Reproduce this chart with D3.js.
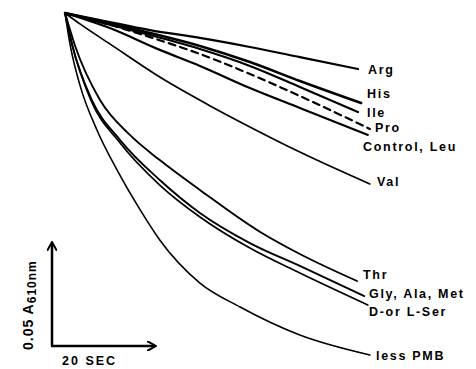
<!DOCTYPE html>
<html>
<head>
<meta charset="utf-8">
<script src="https://cdn.jsdelivr.net/npm/d3@7"></script>
<style>
  body { margin: 0; background: #fff; }
</style>
</head>
<body>
<div id="chart"></div>
<script>
// Time in seconds after start, absorbance decrease in mA (610 nm)
var argT = [0, 6.8, 16.5, 26.2, 35.9, 45.6, 56.9];
var argA = [0, 3.4, 8.3, 12.1, 16.5, 21.4, 27.2];

var hisT = [0, 6.8, 16.5, 26.2, 35.9, 45.6, 57.5];
var hisA = [0, 3.9, 9.7, 16.0, 23.8, 33.0, 43.7];

var ileT = [0, 6.8, 16.5, 26.2, 35.9, 45.6, 56.9];
var ileA = [0, 4.4, 10.7, 17.5, 25.7, 35.9, 48.1];

var proT = [0, 6.8, 16.5, 26.2, 35.9, 45.6, 59.2];
var proA = [0, 4.4, 11.7, 19.9, 29.6, 40.3, 56.3];

var controlT = [0, 8.7, 18.4, 26.2, 35.9, 45.6, 58.8];
var controlA = [0, 7.3, 17.9, 25.7, 36.4, 46.1, 59.2];

var valT = [0, 2.9, 8.7, 18.4, 28.2, 35.9, 45.6, 59.2];
var valA = [0, 5.3, 15.0, 31.1, 45.1, 55.3, 67.5, 83.0];

var thrT = [0, 1.9, 6.8, 12.6, 18.4, 26.2, 37.9, 45.6, 56.7];
var thrA = [0, 15.5, 42.2, 59.2, 71.4, 85.9, 106.3, 117.0, 130.1];

var glyT = [0, 1.4, 5.2, 10.7, 18.4, 26.2, 35.9, 45.6, 58.1];
var glyA = [0, 15.5, 42.2, 61.7, 81.1, 97.1, 111.7, 122.8, 137.4];

var serT = [0, 1.4, 5.0, 10.7, 18.4, 26.2, 35.9, 45.6, 58.8];
var serA = [0, 15.5, 42.2, 63.1, 83.5, 99.0, 114.1, 126.2, 141.7];

var pmbT = [0, 1.0, 2.9, 6.2, 10.1, 14.6, 18.4, 26.2, 34.0, 45.6, 59.2];
var pmbA = [0, 15.5, 35.0, 56.8, 76.2, 95.6, 110.2, 131.1, 142.7, 156.3, 166.0];

// Curve labels
var labels = ["Arg", "His", "Ile", "Pro", "Control, Leu", "Val",
              "Thr", "Gly, Ala, Met", "D-or L-Ser", "less PMB"];

// Scale bar values
var barTime = 20;      // seconds
var barAbs = 50;       // mA  (0.05 A)

var series = [
    { name: labels[0], t: argT, a: argA, w: 2.2, lx: 368, ly: 74 },
    { name: labels[1], t: hisT, a: hisA, w: 2.6, lx: 367, ly: 98 },
    { name: labels[2], t: ileT, a: ileA, w: 2.2, lx: 367, ly: 117 },
    { name: labels[3], t: proT, a: proA, w: 2.2, lx: 375, ly: 132, dash: "7,5" },
    { name: labels[4], t: controlT, a: controlA, w: 2.2, lx: 363, ly: 151 },
    { name: labels[5], t: valT, a: valA, w: 1.7, lx: 377, ly: 186 },
    { name: labels[6], t: thrT, a: thrA, w: 1.9, lx: 363, ly: 279 },
    { name: labels[7], t: glyT, a: glyA, w: 1.9, lx: 369, ly: 298 },
    { name: labels[8], t: serT, a: serA, w: 1.7, lx: 369, ly: 316 },
    { name: labels[9], t: pmbT, a: pmbA, w: 1.6, lx: 376, ly: 360 }
];

var svg = d3.select("#chart")
    .append("svg")
    .attr("width", 476)
    .attr("height", 369);

// Scales (time -> x, absorbance decrease -> y downward)
var xScale = d3.scaleLinear()
    .domain([0, 60])
    .range([65, 65 + 60 * 5.15]);

var yScale = d3.scaleLinear()
    .domain([0, 170])
    .range([13, 13 + 170 * 2.06]);

var line = d3.line()
    .x(function(d) { return xScale(d[0]); })
    .y(function(d) { return yScale(d[1]); })
    .curve(d3.curveMonotoneX);

// Draw curves
svg.selectAll(".curve")
    .data(series)
    .enter()
    .append("path")
    .attr("class", "curve")
    .attr("d", function(s) {
        return line(s.t.map(function(t, i) { return [t, s.a[i]]; }));
    })
    .attr("fill", "none")
    .attr("stroke", "#000")
    .attr("stroke-width", function(s) { return s.w; })
    .attr("stroke-linecap", "round")
    .attr("stroke-dasharray", function(s) { return s.dash || null; });

// Labels at the end of each curve
svg.selectAll(".label")
    .data(series)
    .enter()
    .append("text")
    .attr("class", "label")
    .attr("x", function(s) { return s.lx; })
    .attr("y", function(s) { return s.ly; })
    .attr("font-family", "Liberation Sans, Arial, sans-serif")
    .attr("font-weight", "bold")
    .attr("font-size", "12.5px")
    .attr("letter-spacing", "1.7px")
    .attr("fill", "#000")
    .text(function(s) { return s.name; });

// Scale bar (20 SEC, 0.05 A)
var ox = 52, oy = 346;
var barW = xScale(barTime) - xScale(0);
var barH = yScale(barAbs) - yScale(0);

svg.append("defs")
    .append("marker")
    .attr("id", "arrow")
    .attr("viewBox", "0 0 10 10")
    .attr("refX", 8)
    .attr("refY", 5)
    .attr("markerWidth", 4)
    .attr("markerHeight", 4)
    .attr("orient", "auto")
    .append("path")
    .attr("d", "M0,0 L9,5 L0,10")
    .attr("fill", "none")
    .attr("stroke", "#000")
    .attr("stroke-width", 2);

svg.append("line")
    .attr("x1", ox).attr("y1", oy)
    .attr("x2", ox).attr("y2", oy - barH)
    .attr("stroke", "#000")
    .attr("stroke-width", 2.5)
    .attr("marker-end", "url(#arrow)");

svg.append("line")
    .attr("x1", ox - 1).attr("y1", oy)
    .attr("x2", ox + barW).attr("y2", oy)
    .attr("stroke", "#000")
    .attr("stroke-width", 2.5)
    .attr("marker-end", "url(#arrow)");

svg.append("text")
    .attr("x", 62)
    .attr("y", 365)
    .attr("font-family", "Liberation Sans, Arial, sans-serif")
    .attr("font-weight", "bold")
    .attr("font-size", "12.5px")
    .attr("letter-spacing", "2px")
    .text(barTime + " SEC");

var yLab = svg.append("text")
    .attr("transform", "translate(33,350) rotate(-90)")
    .attr("font-family", "Liberation Sans, Arial, sans-serif")
    .attr("font-weight", "bold")
    .attr("font-size", "14px")
    .attr("letter-spacing", "1px");
yLab.append("tspan").text((barAbs / 1000).toFixed(2) + " A");
yLab.append("tspan")
    .attr("dy", 3)
    .attr("font-size", "12px")
    .text("610nm");
</script>
</body>
</html>
